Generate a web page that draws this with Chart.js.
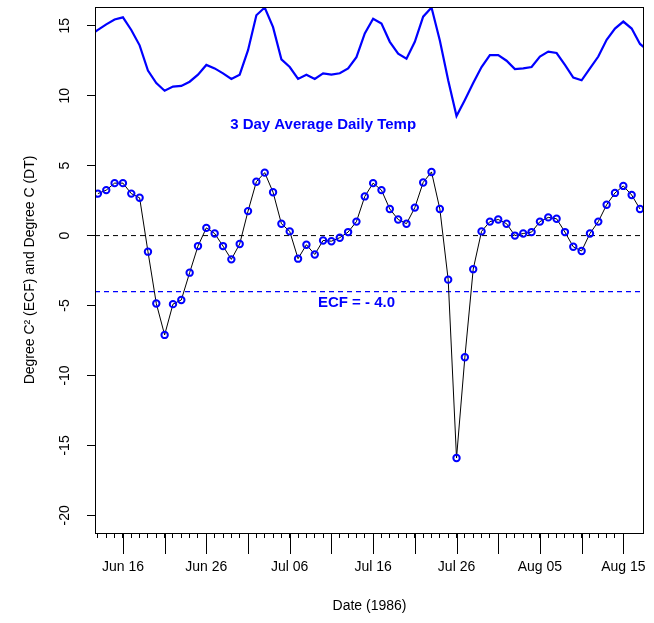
<!DOCTYPE html>
<html>
<head>
<meta charset="utf-8">
<script src="https://cdn.jsdelivr.net/npm/chart.js@4"></script>
<style>
	body { margin: 0; background: #fff; }
	#wrap { width: 654px; height: 623px; }
</style>
</head>
<body>
<div id="wrap"><canvas id="ecf"></canvas></div>
<script>
// daily ECF values from 13 Jun 1986, one per day
var ecfStart = '1986-06-13';
var ecf = [3.0, 3.25, 3.75, 3.75, 3.0, 2.7, -1.15, -4.85, -7.1, -4.9,
	-4.6, -2.65, -0.75, 0.55, 0.15, -0.75, -1.7, -0.6, 1.75, 3.85,
	4.5, 3.1, 0.85, 0.3, -1.65, -0.65, -1.35, -0.35, -0.4, -0.15,
	0.25, 1.0, 2.8, 3.75, 3.25, 1.9, 1.15, 0.85, 2.0, 3.8,
	4.55, 1.9, -3.15, -15.9, -8.7, -2.4, 0.3, 1.0, 1.15, 0.85,
	0.0, 0.15, 0.25, 1.0, 1.3, 1.2, 0.25, -0.8, -1.1, 0.15,
	1.0, 2.2, 3.05, 3.55, 2.9, 1.9];

// 3 day average daily temperature from 12 Jun 1986
var tempStart = '1986-06-12';
var temp = [14.3, 14.7, 15.1, 15.45, 15.6, 14.7, 13.6, 11.8, 10.9, 10.35,
	10.65, 10.7, 11.0, 11.5, 12.2, 11.95, 11.6, 11.2, 11.5, 13.25,
	15.75, 16.3, 14.9, 12.6, 12.05, 11.2, 11.5, 11.2, 11.6, 11.5,
	11.6, 11.95, 12.75, 14.45, 15.5, 15.15, 13.85, 13.0, 12.65, 13.85,
	15.65, 16.3, 13.95, 11.1, 8.55, 9.7, 10.9, 12.05, 12.9, 12.9,
	12.5, 11.9, 11.95, 12.05, 12.8, 13.15, 13.05, 12.2, 11.3, 11.1,
	11.95, 12.8, 14.0, 14.8, 15.3, 14.8, 13.7, 13.2];

var ecfThreshold = -4.0;
var yTicks = [-20, -15, -10, -5, 0, 5, 10, 15];
var xTickDates = ['1986-06-16', '1986-06-26', '1986-07-06', '1986-07-16', '1986-07-26', '1986-08-05', '1986-08-15'];
var xTickLabels = ['Jun 16', 'Jun 26', 'Jul 06', 'Jul 16', 'Jul 26', 'Aug 05', 'Aug 15'];

function dayNum(s) {
	var p = s.split('-');
	return Date.UTC(+p[0], +p[1] - 1, +p[2]) / 86400000;
}

var ecfPts = [];
for (var i in ecf) ecfPts.push({x: dayNum(ecfStart) + (+i), y: ecf[i]});
var tempPts = [];
for (var j in temp) tempPts.push({x: dayNum(tempStart) + (+j), y: temp[j]});

var xMin = dayNum('1986-06-12') + 0.65;
var xMax = dayNum('1986-08-17') + 0.48;
var firstTick = dayNum('1986-06-13');
var lastTick = dayNum('1986-08-15');
var labelAt = {};
for (var k in xTickDates) labelAt[dayNum(xTickDates[k])] = xTickLabels[k];

var notes = [
	{text: '3 Day Average Daily Temp', x: dayNum('1986-07-10'), y: 7.9},
	{text: 'ECF = - 4.0', x: dayNum('1986-07-14'), y: -4.8}
];

// box, the long 5-day ticks and the two notes
var extras = {
	id: 'extras',
	afterDraw: function(chart) {
		var ctx = chart.ctx, a = chart.chartArea, x = chart.scales.x, y = chart.scales.y;
		ctx.save();
		ctx.strokeStyle = '#000';
		ctx.lineWidth = 1;
		ctx.strokeRect(Math.round(a.left) + 0.5, Math.round(a.top) + 0.5,
			Math.round(a.right - a.left) - 1, Math.round(a.bottom - a.top));
		ctx.beginPath();
		for (var d = dayNum('1986-06-16'); d <= lastTick; d += 5) {
			var px = Math.round(x.getPixelForValue(d)) + 0.5;
			ctx.moveTo(px, a.bottom);
			ctx.lineTo(px, a.bottom + 21);
		}
		ctx.stroke();
		ctx.fillStyle = '#0000ff';
		ctx.font = 'bold 15px "Liberation Sans", Arial, sans-serif';
		ctx.textAlign = 'center';
		ctx.textBaseline = 'middle';
		notes.forEach(function(n) {
			ctx.fillText(n.text, x.getPixelForValue(n.x), y.getPixelForValue(n.y));
		});
		ctx.restore();
	}
};

var font = {family: '"Liberation Sans", Arial, sans-serif', size: 14};

new Chart(document.getElementById('ecf'), {
	type: 'line',
	data: {
		datasets: [
			{
				label: 'Temp',
				data: tempPts,
				borderColor: '#0000ff',
				borderWidth: 2.2,
				pointRadius: 0,
				clip: 0
			},
			{
				label: 'ECF',
				data: ecfPts,
				borderColor: '#000',
				borderWidth: 1,
				pointRadius: 3.2,
				pointBorderWidth: 2,
				pointBorderColor: '#0000ff',
				pointBackgroundColor: 'rgba(255,255,255,0)'
			},
			{
				label: 'zero',
				data: [{x: xMin, y: 0}, {x: xMax, y: 0}],
				borderColor: '#000',
				borderWidth: 1,
				borderDash: [5, 4],
				pointRadius: 0
			},
			{
				label: 'threshold',
				data: [{x: xMin, y: ecfThreshold}, {x: xMax, y: ecfThreshold}],
				borderColor: '#0000ff',
				borderWidth: 1.2,
				borderDash: [5, 4],
				pointRadius: 0
			}
		]
	},
	options: {
		responsive: true,
		maintainAspectRatio: false,
		animation: false,
		layout: {padding: {top: 7, right: 10, left: 0, bottom: 0}},
		plugins: {legend: {display: false}, tooltip: {enabled: false}},
		scales: {
			x: {
				type: 'linear',
				min: xMin,
				max: xMax,
				afterBuildTicks: function(s) {
					var t = [];
					for (var d = firstTick; d <= lastTick; d++) t.push({value: d});
					s.ticks = t;
				},
				afterFit: function(s) {
					s.height = 90;
					s.paddingLeft = 0;
					s.paddingRight = 0;
				},
				ticks: {
					autoSkip: false,
					maxRotation: 0,
					padding: 21,
					color: '#000',
					font: font,
					callback: function(v) { return labelAt[v] || ''; }
				},
				grid: {drawOnChartArea: false, tickLength: 5, tickColor: '#000'},
				border: {display: false},
				title: {display: true, text: 'Date (1986)', color: '#000', font: font, padding: {top: 0, bottom: 8}}
			},
			y: {
				min: -21.26,
				max: 16.34,
				afterBuildTicks: function(s) {
					s.ticks = yTicks.map(function(v) { return {value: v}; });
				},
				afterFit: function(s) {
					s.width = 95;
					s.paddingTop = 0;
					s.paddingBottom = 0;
				},
				ticks: {
					minRotation: 90,
					maxRotation: 90,
					crossAlign: 'center',
					padding: 12,
					color: '#000',
					font: font
				},
				grid: {drawOnChartArea: false, tickLength: 8, tickColor: '#000'},
				border: {display: false},
				title: {display: true, text: 'Degree C² (ECF) and Degree C (DT)', color: '#000', font: font, padding: {top: 22, bottom: 0}}
			}
		}
	},
	plugins: [extras]
});
</script>
</body>
</html>
